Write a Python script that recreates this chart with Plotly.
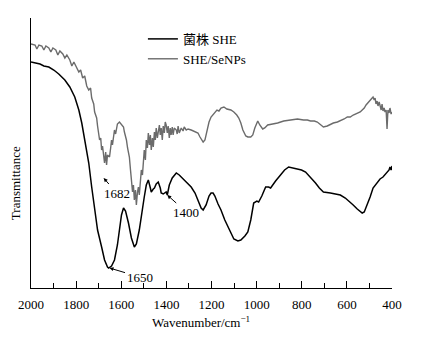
import plotly.graph_objects as go

# ---- data (wavenumber in cm^-1, transmittance in arbitrary units) ----
wn_she = [2000,1982,1960,1943,1921,1899,1877,1850,1828,1806,1788,1775,1762,1744,1731,1718,1705,1687,1674,1661,
          1656,1643,1630,1617,1608,1599,1590,1581,1568,1555,1542,1533,1520,1511,1498,1489,1480,1471,1467,1458,
          1453,1445,1436,1427,1423,1414,1401,1396,1387,1374,1356,1343,1334,1312,1290,1273,1260,1246,1237,1224,
          1211,1202,1193,1185,1171,1158,1141,1127,1114,1101,1083,1070,1052,1039,1026,1013,999,991,977,960,
          947,938,916,894,876,858,841,819,801,783,775,757,739,722,704,673,651,629,607,585,
          572,554,541,532,523,510,497,484,466,453,440,431,422,413,409,404,400]
t_she = [226,225,224,222,221,218,214,208,201,191,178,165,148,125,101,78,58,41,28,21,
         20,22,28,43,58,73,80,77,65,50,41,44,58,73,91,103,108,100,96,99,
         100,104,106,100,95,94,96,93,103,110,115,113,111,106,101,95,88,80,78,83,
         92,95,95,92,84,78,68,61,54,49,47,48,52,56,68,85,87,86,92,101,
         101,100,107,113,118,121,120,119,118,116,114,110,105,100,96,95,94,93,90,86,
         83,79,76,75,76,83,91,100,105,109,111,113,116,118,121,118,122]

wn_senps = [2000,1982,1974,1965,1952,1943,1934,1921,1912,1903,1890,1881,1872,1859,1850,1841,1828,1819,1810,1797,
            1788,1780,1771,1762,1753,1744,1736,1731,1722,1718,1709,1705,1696,1691,1687,1683,1678,1674,1669,1665,
            1661,1652,1647,1643,1639,1630,1625,1617,1608,1599,1590,1586,1577,1572,1564,1559,1555,1550,1546,1542,
            1537,1533,1528,1524,1520,1515,1511,1506,1502,1498,1493,1489,1484,1480,1475,1471,1467,1462,1458,1453,
            1449,1445,1440,1436,1431,1427,1423,1418,1414,1409,1405,1401,1396,1392,1387,1383,1379,1374,1370,1365,
            1356,1352,1348,1343,1334,1326,1321,1312,1304,1290,1277,1260,1251,1237,1229,1220,1211,1202,1189,1176,
            1167,1158,1145,1132,1114,1101,1088,1079,1070,1061,1048,1039,1026,1017,1008,999,995,986,973,964,
            951,929,907,880,850,819,792,775,761,744,731,717,704,687,673,660,642,629,612,598,
            585,572,559,550,541,532,523,515,506,497,488,484,479,475,471,466,462,457,453,448,
            444,440,435,431,426,422,418,413,409,404,400]
t_senps = [244,243,239,243,242,238,242,240,236,240,238,233,237,234,230,233,228,222,226,220,
           216,218,210,212,202,198,200,190,184,176,170,162,148,150,138,142,128,125,136,123,
           133,131,140,148,143,158,154,164,166,164,161,156,148,140,131,118,110,96,103,88,
           98,83,96,101,93,110,118,113,131,138,128,148,140,155,143,153,138,150,141,156,
           148,160,150,158,163,153,160,148,162,155,166,163,155,162,150,160,153,161,153,160,
           158,154,162,155,160,157,161,158,159,158,157,155,151,146,148,158,166,171,175,178,
           177,180,181,179,178,176,173,170,165,158,152,151,151,153,160,166,167,163,159,160,
           163,164,165,167,168,169,168,168,167,167,166,163,161,162,164,165,166,167,169,171,
           171,173,174,175,176,178,180,183,185,187,190,191,188,190,184,187,182,186,183,178,
           184,177,180,176,178,159,178,175,180,174,176]

series_names = ["菌株 SHE", "SHE/SeNPs"]
x_ticks = [2000, 1800, 1600, 1400, 1200, 1000, 800, 600, 400]

# peak labels: (label, wavenumber, transmittance, text dx, text dy)
peak_labels = ["1682", "1650", "1400"]
peak_wn = [1678, 1652, 1396]
peak_t = [110, 20, 93]
peak_dx = [13, 30, 19]
peak_dy = [15, 9, 17]

FONT = "Liberation Serif, 'Times New Roman', 'Noto Sans CJK SC', serif"

fig = go.Figure()
fig.add_trace(go.Scatter(x=wn_she, y=t_she, mode="lines", name=series_names[0],
                         line=dict(color="#000000", width=1.5)))
fig.add_trace(go.Scatter(x=wn_senps, y=t_senps, mode="lines", name=series_names[1],
                         line=dict(color="#6b6b6b", width=1.4)))

for lab, xw, yt, dx, dy in zip(peak_labels, peak_wn, peak_t, peak_dx, peak_dy):
    fig.add_annotation(x=xw, y=yt, text=lab, showarrow=True, ax=dx, ay=dy,
                       arrowhead=2, arrowsize=0.8, arrowwidth=1, arrowcolor="#000",
                       font=dict(family=FONT, size=13, color="#000"))

fig.add_annotation(x=0.471, y=-0.126, xref="paper", yref="paper", showarrow=False,
                   xanchor="center", yanchor="middle",
                   text="Wavenumber/cm<sup>−1</sup>", font=dict(family=FONT, size=13, color="#000"))
fig.add_annotation(x=-0.041, y=0.389, xref="paper", yref="paper", showarrow=False,
                   xanchor="center", yanchor="middle",
                   text="Transmittance", textangle=-90, font=dict(family=FONT, size=13, color="#000"))

# page body has an 8px default margin, so the figure is sized/offset to fit the 424x342 window
fig.update_layout(
    width=416, height=334,
    margin=dict(l=21, r=32, t=10, b=54),
    paper_bgcolor="white", plot_bgcolor="white",
    font=dict(family=FONT, size=13, color="#000"),
    showlegend=True,
    legend=dict(x=0.31, y=0.978, xanchor="left", yanchor="top", bgcolor="rgba(0,0,0,0)",
                font=dict(family=FONT, size=13, color="#000"), tracegroupgap=0),
    xaxis=dict(range=[2000, 400], tickvals=x_ticks, ticks="inside", ticklen=7, tickwidth=1,
               tickcolor="#000", showline=True, linecolor="#000", linewidth=1, mirror=False,
               showgrid=False, zeroline=False, ticklabelstandoff=4,
               minor=dict(dtick=100, ticks="inside", ticklen=5, tickcolor="#000", showgrid=False)),
    yaxis=dict(range=[0, 270], showticklabels=False, ticks="", showline=True, linecolor="#000",
               linewidth=1, showgrid=False, zeroline=False),
)

fig.write_html("out.html")
